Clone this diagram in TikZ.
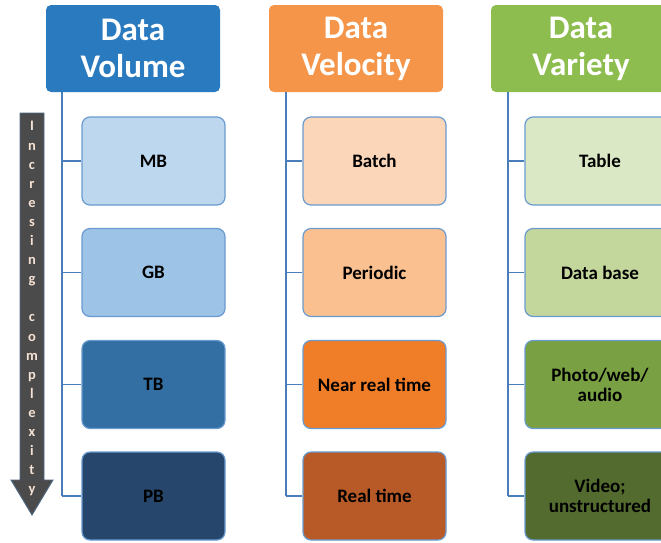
\documentclass[tikz,border=0pt]{standalone}
\usepackage{fontspec}
\setmainfont{Carlito}
\definecolor{volhead}{HTML}{2A7ABF}
\definecolor{volA}{HTML}{BDD7EE}
\definecolor{volB}{HTML}{9DC3E6}
\definecolor{volC}{HTML}{336FA3}
\definecolor{volD}{HTML}{26466B}
\definecolor{velhead}{HTML}{F4954A}
\definecolor{velA}{HTML}{FBD6B9}
\definecolor{velB}{HTML}{FAC090}
\definecolor{velC}{HTML}{F07D27}
\definecolor{velD}{HTML}{B85A27}
\definecolor{varhead}{HTML}{8DBD4F}
\definecolor{varA}{HTML}{DBE8C6}
\definecolor{varB}{HTML}{C3D69B}
\definecolor{varC}{HTML}{7AA044}
\definecolor{varD}{HTML}{536B2F}
\definecolor{linkblue}{HTML}{4A7EBB}
\definecolor{edgeblue}{HTML}{6A9BD0}
\definecolor{arrowgray}{HTML}{4B4B4B}
\definecolor{arrowedge}{HTML}{4F6A85}
\definecolor{lettertint}{HTML}{F6E2D4}
\begin{document}
\begin{tikzpicture}[x=1pt,y=-1pt,
  header/.style={rounded corners=5pt, minimum width=174pt, minimum height=87pt,
    text=white, font=\fontsize{33}{37}\selectfont\bfseries, align=center,
    inner sep=0pt, draw=none},
  item/.style={rounded corners=8pt, draw=edgeblue, line width=1.2pt,
    minimum width=143pt, minimum height=88pt, align=center, inner sep=0pt,
    font=\fontsize{19}{20}\selectfont\bfseries},
  link/.style={draw=linkblue, line width=1.5pt},
  letter/.style={text=lettertint, font=\fontsize{14.5}{14.5}\selectfont\bfseries, inner sep=0pt}]
\useasboundingbox (0,0) rectangle (661,542);
\begin{scope}
\clip (0,0) rectangle (661,542);

% column headers
\node[header, fill=volhead] (vol) at (133,48.5) {Data\\Volume};
\node[header, fill=velhead] (vel) at (356,48.5) {Data\\Velocity};
\node[header, fill=varhead, minimum width=180pt] (var) at (581,48.5) {Data\\Variety};

% trunk coordinates
\coordinate (volT) at (62,92);  \coordinate (volB) at (62,496);
\coordinate (velT) at (286,92); \coordinate (velB) at (286,496);
\coordinate (varT) at (508,92); \coordinate (varB) at (508,496);

% Data Volume items
\node[item, fill=volA] (mb) at (153.5,161) {MB};
\node[item, fill=volB] (gb) at (153.5,272.5) {GB};
\node[item, fill=volC] (tb) at (153.5,384.5) {TB};
\node[item, fill=volD] (pb) at (153.5,496) {PB};

% Data Velocity items
\node[item, fill=velA] (batch) at (374.5,161) {Batch};
\node[item, fill=velB] (periodic) at (374.5,272.5) {Periodic};
\node[item, fill=velC] (nrt) at (374.5,384.5) {Near real time};
\node[item, fill=velD] (rt) at (374.5,496) {Real time};

% Data Variety items
\node[item, fill=varA, minimum width=150pt] (table) at (600,161) {Table};
\node[item, fill=varB, minimum width=150pt] (db) at (600,272.5) {Data base};
\node[item, fill=varC, minimum width=150pt] (photo) at (600,384.5) {Photo/web/\\audio};
\node[item, fill=varD, minimum width=150pt] (video) at (600,496) {Video;\\unstructured};

% trunks and branches
\foreach \c/\a/\b/\cc/\d in {vol/mb/gb/tb/pb, vel/batch/periodic/nrt/rt, var/table/db/photo/video}{
  \draw[link] (\c T) -- (\c B);
  \draw[link] (\a.west) -- (\a.west -| \c T);
  \draw[link] (\b.west) -- (\b.west -| \c T);
  \draw[link] (\cc.west) -- (\cc.west -| \c T);
  \draw[link] (\d.west) -- (\d.west -| \c T);
}

% complexity arrow
\draw[fill=arrowgray, draw=arrowedge, line width=0.9pt, line join=miter]
  (20,113) -- (44,113) -- (44,480) -- (53,480) -- (32,515) -- (11,480) -- (20,480) -- cycle;
\foreach \ch [count=\i from 0] in {I,n,c,r,e,s,i,n,g,{},c,o,m,p,l,e,x,i,t,y}{
  \node[letter] (ch\i) at (32,128+19.1*\i) {\strut\ch};
}
\end{scope}
\end{tikzpicture}
\end{document}
